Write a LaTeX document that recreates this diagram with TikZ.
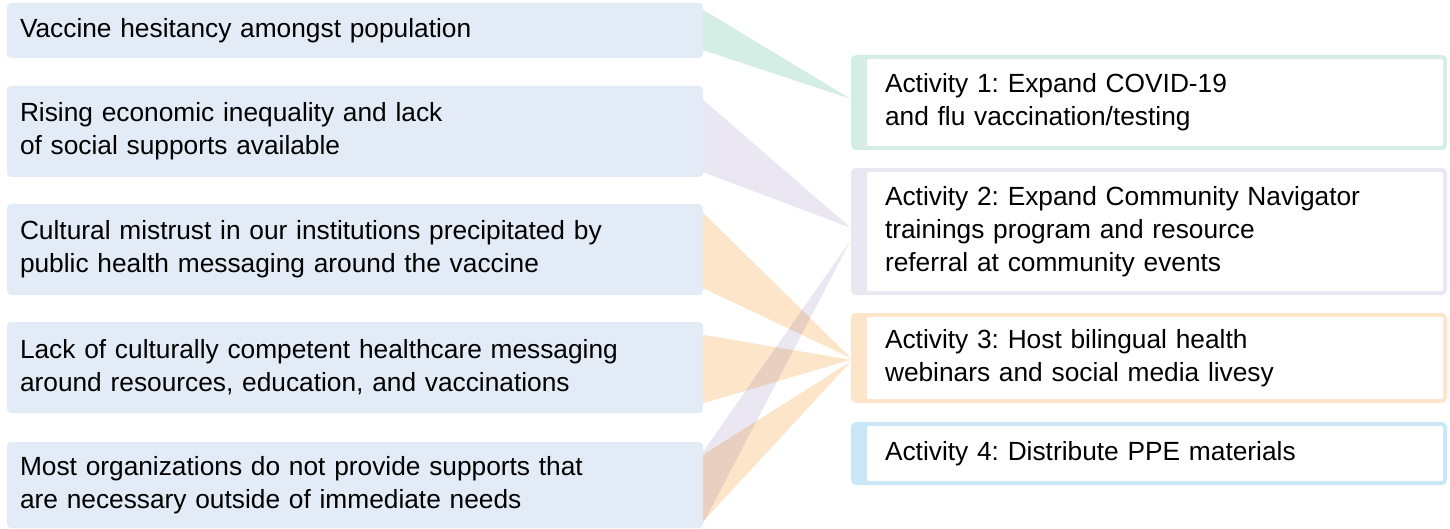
\documentclass[tikz,border=0pt]{standalone}
\usepackage{fontspec}
\setmainfont{Liberation Sans}
\usetikzlibrary{calc,backgrounds}
\definecolor{leftfill}{HTML}{E2EBF6}
\definecolor{cgreen}{HTML}{D4EEE5}
\definecolor{cpurple}{HTML}{EAE7F3}
\definecolor{corange}{HTML}{FDE5C9}
\definecolor{cblue}{HTML}{C8E8F8}
\frenchspacing
\begin{document}
\begin{tikzpicture}[x=1pt,y=-1pt,
  font=\fontsize{26.3}{33}\selectfont\frenchspacing,
  leftbox/.style={fill=leftfill, rounded corners=4pt, minimum width=696pt,
    text width=670pt, inner xsep=13pt, inner ysep=0pt, align=left},
  rightbox/.style={fill=#1, rounded corners=5pt, minimum width=596pt,
    text width=528pt, inner xsep=34pt, inner ysep=0pt, align=left,
    path picture={\fill[white, rounded corners=2pt]
      ($(path picture bounding box.north west)+(16pt,-4pt)$) rectangle
      ($(path picture bounding box.south east)+(-4pt,4pt)$);}},
  ribbon/.style={fill=#1, blend mode=multiply}
]
\useasboundingbox (0,0) rectangle (1450,529);

% left column
\node[leftbox, minimum height=55pt] (c1) at (355,30.5) {Vaccine hesitancy amongst population};
\node[leftbox, minimum height=91pt] (c2) at (355,131.5) {Rising economic inequality and lack\\of social supports available};
\node[leftbox, minimum height=91pt] (c3) at (355,249.5) {Cultural mistrust in our institutions precipitated by\\public health messaging around the vaccine};
\node[leftbox, minimum height=91pt] (c4) at (355,367.5) {Lack of culturally competent healthcare messaging\\around resources, education, and vaccinations};
\node[leftbox, minimum height=86pt] (c5) at (355,485) {Most organizations do not provide supports that\\are necessary outside of immediate needs};

% right column
\node[rightbox=cgreen, minimum height=95pt] (a1) at (1149,102.5) {Activity 1: Expand COVID-19\\and flu vaccination/testing};
\node[rightbox=cpurple, minimum height=127pt] (a2) at (1149,231.5) {Activity 2: Expand Community Navigator\\trainings program and resource\\referral at community events};
\node[rightbox=corange, minimum height=90pt] (a3) at (1149,358) {Activity 3: Host bilingual health\\webinars and social media livesy};
\node[rightbox=cblue, minimum height=63pt] (a4) at (1149,453.5) {Activity 4: Distribute PPE materials};

% ribbons
\begin{pgfonlayer}{background}
\fill[ribbon=cgreen] ($(c1.north east)!0.127!(c1.south east)$) -- ($(a1.north west)!0.463!(a1.south west)$) -- ($(c1.north east)!0.855!(c1.south east)$) -- cycle;
\fill[ribbon=cpurple] ($(c2.north east)!0.154!(c2.south east)$) -- ($(a2.north west)!0.472!(a2.south west)$) -- ($(c2.north east)!0.945!(c2.south east)$) -- cycle;
\fill[ribbon=corange] ($(c3.north east)!0.099!(c3.south east)$) -- ($(a3.north west)!0.5!(a3.south west)$) -- ($(c3.north east)!0.923!(c3.south east)$) -- cycle;
\fill[ribbon=corange] ($(c4.north east)!0.143!(c4.south east)$) -- ($(a3.north west)!0.52!(a3.south west)$) -- ($(c4.north east)!0.89!(c4.south east)$) -- cycle;
\fill[ribbon=corange] ($(c5.north east)!0.15!(c5.south east)$) -- ($(a3.north west)!0.54!(a3.south west)$) -- ($(c5.north east)!0.92!(c5.south east)$) -- cycle;
\fill[ribbon=cpurple] ($(c5.north east)!0.115!(c5.south east)$) -- ($(a2.north west)!0.567!(a2.south west)$) -- ($(c5.north east)!0.943!(c5.south east)$) -- cycle;
\end{pgfonlayer}
\end{tikzpicture}
\end{document}
